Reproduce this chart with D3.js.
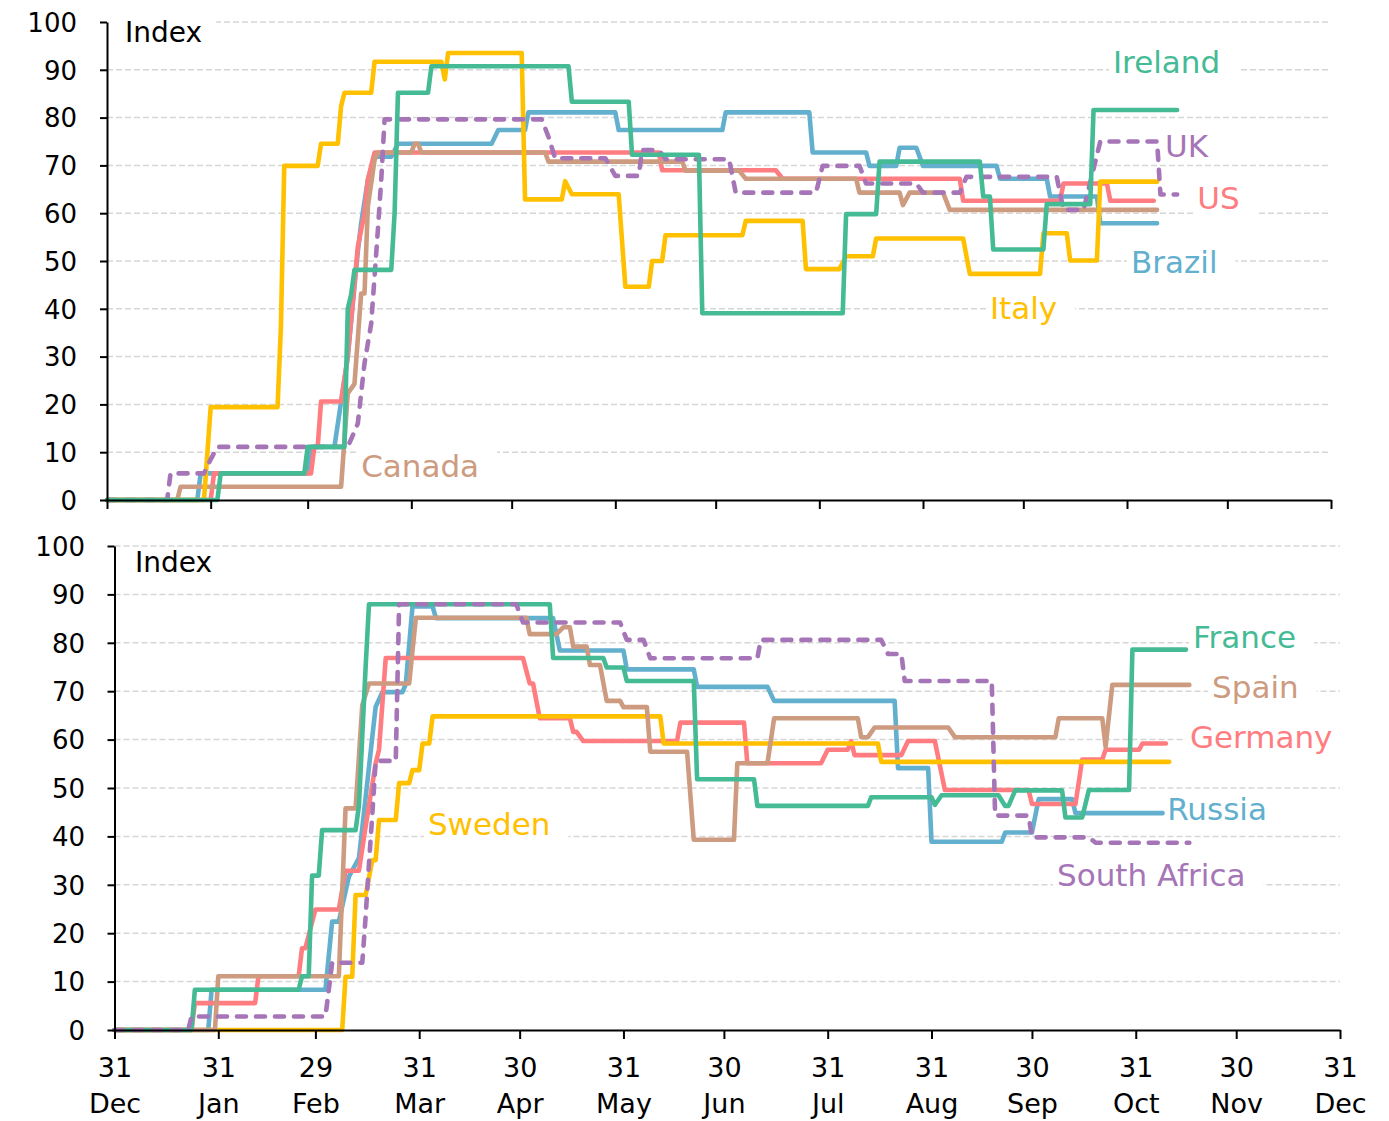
<!DOCTYPE html>
<html><head><meta charset="utf-8">
<script src="https://cdn.jsdelivr.net/npm/d3@7"></script>
<style>body{margin:0;background:#fff}svg{display:block}</style>
</head><body><svg id="c" width="1389" height="1121"></svg>
<script>
// ---- data (x = days since 31 Dec 2019, y = stringency index) ----
const tickDates = ["2019-12-31","2020-01-31","2020-02-29","2020-03-31","2020-04-30","2020-05-31","2020-06-30","2020-07-31","2020-08-31","2020-09-30","2020-10-31","2020-11-30","2020-12-31"];
const yTicks = [0,10,20,30,40,50,60,70,80,90,100];

// top panel
const italyDays = [0,29,31,51,52,53,63,64,69,70,71,79,80,100,101,102,124,125,136,137,139,153,155,162,163,166,167,190,191,208,209,219,221,229,230,256,258,279,280,287,288,296,297,314];
const italyVals = [0,0,19.44,19.44,36.1,69.91,69.91,74.54,74.54,82.4,85.19,85.19,91.67,91.67,88,93.52,93.52,62.9,62.9,66.7,63.95,63.95,44.6,44.6,50,50,55.4,55.4,58.4,58.4,48.3,48.3,51,51,54.7,54.7,47.3,47.3,55.8,55.8,50.1,50.1,66.6,66.6];
const irelandDays = [0,33,34,59,60,71,72,73,74,85,86,87,96,97,138,139,156,157,177,178,220,221,230,231,261,262,264,265,280,281,294,295,320];
const irelandVals = [0,0,5.56,5.56,11.11,11.11,40,43,48.15,48.15,60,85.19,85.19,90.74,90.74,83.33,83.33,72.22,72.22,39.06,39.06,59.8,59.8,70.8,70.8,63.5,63.5,52.4,52.4,61.9,61.9,81.6,81.6];
const brazilDays = [0,27,28,60,61,68,72,75,76,78,80,85,87,115,117,125,126,152,153,184,185,210,211,227,228,236,237,242,244,266,267,281,282,296,297,314];
const brazilVals = [0,0,5.56,5.56,11.11,11.11,30,52,57.9,67,71.8,71.8,74.54,74.54,77.4,77.4,81.1,81.1,77.4,77.4,81.1,81.1,72.7,72.7,69.9,69.9,73.7,73.7,69.9,69.9,67.2,67.2,63.5,63.5,57.9,57.9];
const usDays = [0,31,32,61,62,63,64,70,72,75,77,78,80,165,166,200,202,255,256,285,286,299,300,313];
const usVals = [0,0,5.56,5.56,11.11,11.11,20.6,20.6,30,53,60,67,72.69,72.69,68.98,68.98,67.2,67.2,62.6,62.6,66.2,66.2,62.6,62.6];
const canadaDays = [0,21,22,70,72,74,76,77,78,80,81,91,92,93,94,131,132,172,173,189,191,224,225,237,238,240,250,252,314];
const canadaVals = [0,0,2.78,2.78,22.3,24.3,43.2,43.2,61.4,71.1,72.69,72.69,74.54,74.54,72.69,72.69,70.8,70.8,68.9,68.9,67.2,67.2,64.3,64.3,61.7,64.3,64.3,60.7,60.7];
const ukDays = [0,18,19,29,31,33,72,75,77,79,80,81,82,83,130,132,134,149,152,159,160,165,167,186,188,212,214,225,227,242,244,255,257,284,286,292,297,314,315,320];
const ukVals = [0,0,5.56,5.56,8.5,11.11,11.11,16,28.6,36.9,46.7,56.5,67,79.63,79.63,76,71.5,71.5,67.8,67.8,73.2,73.2,71.3,71.3,64.3,64.3,69.9,69.9,66.2,66.2,64.3,64.3,67.6,67.6,60.7,60.7,75,75,63.9,63.9];

// bottom panel
const franceDays = [0,23,24,55,56,58,59,61,62,72,73,74,75,76,130,131,146,147,152,153,173,174,191,192,225,226,244,245,247,264,266,267,269,283,284,289,291,303,304,320];
const franceVals = [0,0,8.33,8.33,11.11,11.11,31.9,31.9,41.3,41.3,46.3,60.7,75,87.96,87.96,76.85,76.85,74.9,74.9,72.1,72.1,51.8,51.8,46.3,46.3,48.1,48.1,46.5,48.5,48.5,46.3,46.3,49.5,49.5,43.9,43.9,49.6,49.6,78.6,78.6];
const swedenDays = [0,68,69,71,72,75,77,78,79,84,85,88,89,91,92,94,95,163,164,228,229,315];
const swedenVals = [0,0,11,11,27.9,27.9,35.1,35.1,43.4,43.4,51,51,53.7,53.7,59.2,59.2,64.8,64.8,59.2,59.2,55.4,55.4];
const russiaDays = [0,28,29,63,65,67,70,73,77,78,80,86,87,89,95,96,131,133,152,153,173,174,195,197,233,234,243,244,265,266,274,276,286,287,313];
const russiaVals = [0,0,8.33,8.33,22.4,22.4,31.7,35.5,60.6,66.8,69.8,69.8,71.5,87.5,87.5,85.1,85.1,78.4,78.4,74.5,74.5,70.9,70.9,68,68,54.1,54.1,38.9,38.9,40.8,40.8,47.7,47.7,44.8,44.8];
const germanyDays = [0,23,24,42,43,55,56,57,60,67,69,73,75,78,79,81,122,124,125,127,136,137,138,140,168,169,188,189,211,213,219,220,221,235,237,245,248,273,274,287,289,295,296,306,307,314];
const germanyVals = [0,0,5.56,5.56,11.11,11.11,16.9,16.9,24.9,24.9,32.9,32.9,42,55.1,57.9,76.85,76.85,71.6,71.6,64.4,64.4,61.6,61.6,59.7,59.7,63.5,63.5,55.1,55.1,57.9,57.9,59.7,56.8,56.8,59.7,59.7,49.6,49.6,46.7,46.7,55.9,55.9,57.9,57.9,59.2,59.2];
const spainDays = [0,30,31,67,69,72,74,76,88,90,123,124,132,134,136,137,141,142,145,147,151,152,159,160,171,173,185,186,195,197,222,223,225,227,249,251,281,282,295,296,298,321];
const spainVals = [0,0,11.11,11.11,45.8,45.8,67.1,71.6,71.6,85.19,85.19,81.8,81.8,83.2,83.2,79.2,79.2,75.4,75.4,68,68,66.7,66.7,57.5,57.5,39.3,39.3,55.1,55.1,64.4,64.4,60.5,60.5,62.5,62.5,60.5,60.5,64.4,64.4,58.5,71.3,71.3];
const safricaDays = [0,22,23,63,65,74,75,76,77,78,84,85,120,122,151,153,158,160,192,193,229,231,235,236,262,263,273,274,291,293,321];
const safricaVals = [0,0,2.78,2.78,13.9,13.9,23.4,34.4,44.6,55.6,55.6,87.96,87.96,84.2,84.2,80.6,80.6,76.8,76.8,80.6,80.6,77.7,77.7,72.1,72.1,44.3,44.3,39.8,39.8,38.7,38.7];

// ---- styles ----
const C = {green:"#45BB95", yellow:"#FFC000", blue:"#63AFCE", red:"#FF7C80", tan:"#CD9B80", purple:"#A675B7"};
const FONT = "'DejaVu Sans', sans-serif";

const panels = [
  { x0:107, x1:1331, yTop:22, yBot:500, labelEnd:77, xLabels:false,
    series:[
      {d:brazilDays, v:brazilVals, c:C.blue},
      {d:usDays, v:usVals, c:C.red},
      {d:canadaDays, v:canadaVals, c:C.tan},
      {d:italyDays, v:italyVals, c:C.yellow},
      {d:ukDays, v:ukVals, c:C.purple, dash:true},
      {d:irelandDays, v:irelandVals, c:C.green}
    ],
    labels:[
      {t:"Index", d:5.4, v:95.8, c:"#000", fs:28, padL:18, padR:14},
      {t:"Ireland", d:300.8, v:89.3, c:C.green},
      {t:"UK", d:316.4, v:71.8, c:C.purple},
      {t:"US", d:326, v:60.9, c:C.red},
      {t:"Brazil", d:306.2, v:47.5, c:C.blue},
      {t:"Italy", d:264, v:37.9, c:C.yellow},
      {t:"Canada", d:76, v:4.8, c:C.tan}
    ]},
  { x0:114.5, x1:1340, yTop:546, yBot:1030, labelEnd:85, xLabels:true,
    series:[
      {d:russiaDays, v:russiaVals, c:C.blue},
      {d:germanyDays, v:germanyVals, c:C.red},
      {d:swedenDays, v:swedenVals, c:C.yellow},
      {d:spainDays, v:spainVals, c:C.tan},
      {d:franceDays, v:franceVals, c:C.green},
      {d:safricaDays, v:safricaVals, c:C.purple, dash:true}
    ],
    labels:[
      {t:"Index", d:6.1, v:94.6, c:"#000", fs:28, padL:2, padR:14},
      {t:"France", d:322.1, v:78.9, c:C.green},
      {t:"Spain", d:327.8, v:68.6, c:C.tan},
      {t:"Germany", d:321.2, v:58.3, c:C.red},
      {t:"Russia", d:314.4, v:43.4, c:C.blue},
      {t:"South Africa", d:281.5, v:29.8, c:C.purple},
      {t:"Sweden", d:93.6, v:40.3, c:C.yellow}
    ]}
];

const svg = d3.select("#c");
const parse = d3.timeParse("%Y-%m-%d");
const base = parse(tickDates[0]);
const end = parse(tickDates[tickDates.length-1]);
const dayOf = n => new Date(base.getTime() + n*86400000);
const ticks = tickDates.map(parse);

panels.forEach(p => {
  const x = d3.scaleTime().domain([base, end]).range([p.x0, p.x1]);
  const y = d3.scaleLinear().domain([0,100]).range([p.yBot, p.yTop]);
  const g = svg.append("g");
  const gridG = g.append("g"), bgG = g.append("g"), lineG = g.append("g"), textG = g.append("g"), axG = g.append("g");

  gridG.selectAll("line").data(yTicks.filter(v => v > 0)).join("line")
    .attr("x1", p.x0).attr("x2", p.x1)
    .attr("y1", d => y(d)).attr("y2", d => y(d))
    .attr("stroke", "#d6d6d6").attr("stroke-width", 1.5).attr("stroke-dasharray", "6,3");

  const line = d3.line().x(d => x(dayOf(d[0]))).y(d => y(d[1]));
  p.series.forEach(s => {
    const pts = s.d.map((dd,i) => [dd, s.v[i]]);
    lineG.append("path").attr("d", line(pts)).attr("fill","none")
      .attr("stroke", s.c).attr("stroke-width", 4.6)
      .attr("stroke-linejoin","round").attr("stroke-linecap","round")
      .attr("stroke-dasharray", s.dash ? "9,10" : null);
  });

  p.labels.forEach(l => {
    const fs = l.fs || 31;
    const t = textG.append("text").attr("x", x(dayOf(0)) + (x(dayOf(1)) - x(dayOf(0))) * l.d)
      .attr("y", y(l.v)).attr("font-family", FONT).attr("font-size", fs)
      .attr("fill", l.c).text(l.t);
    const bb = t.node().getBBox();
    const padL = l.padL != null ? l.padL : 4, padR = l.padR != null ? l.padR : 18;
    bgG.append("rect").attr("x", bb.x - padL).attr("y", y(l.v) - fs*0.73 - 4)
      .attr("width", bb.width + padL + padR).attr("height", fs*0.73 + 11).attr("fill", "#fff");
  });

  const yAx = axG.append("g").attr("transform", `translate(${p.x0},0)`)
    .call(d3.axisLeft(y).tickValues(yTicks).tickSize(7).tickSizeOuter(0).tickPadding(p.x0 - p.labelEnd - 7));
  yAx.selectAll("text").attr("font-family", FONT).attr("font-size", 26).attr("fill","#000").attr("dy","0.36em");

  const xAx = axG.append("g").attr("transform", `translate(0,${p.yBot})`)
    .call(d3.axisBottom(x).tickValues(ticks).tickSize(9).tickSizeOuter(0).tickFormat(""));
  if (p.xLabels) {
    xAx.selectAll(".tick").append("text").attr("font-family", FONT).attr("font-size", 27)
      .attr("fill","#000").attr("text-anchor","middle")
      .each(function(d){
        const tx = d3.select(this);
        tx.append("tspan").attr("x",0).attr("y",47).text(d3.timeFormat("%d")(d));
        tx.append("tspan").attr("x",0).attr("y",83).text(d3.timeFormat("%b")(d));
      });
  }
  [yAx, xAx].forEach(a => { a.selectAll("path, line").attr("stroke","#000").attr("stroke-width",2); });
});
</script></body></html>
